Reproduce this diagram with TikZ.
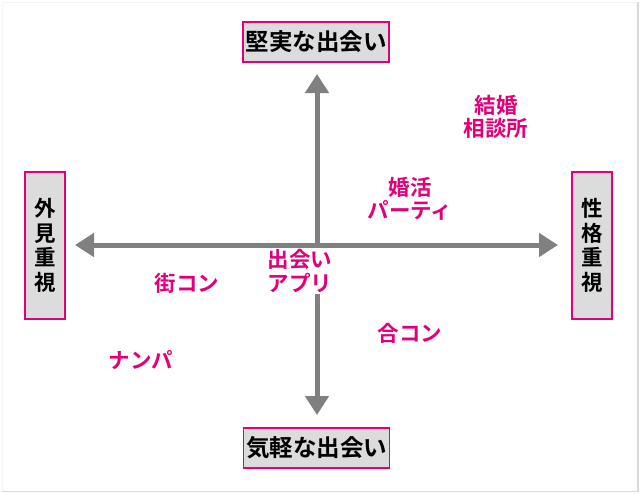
\documentclass[tikz,border=0pt]{standalone}
\usepackage{fontspec}
\setmainfont{Noto Sans CJK JP}
\newfontfamily\jpb{Noto Sans CJK JP Bold}
\usetikzlibrary{arrows.meta}
\definecolor{pk}{RGB}{226,0,122}
\definecolor{boxfill}{RGB}{220,220,220}
\definecolor{axisgray}{RGB}{128,128,128}
\tikzset{
  axisline/.style={draw=axisgray, line width=5pt, {Triangle[length=19pt,width=23pt]}-{Triangle[length=19pt,width=23pt]}},
  axisbox/.style={draw=pk, line width=1.8pt, fill=boxfill, inner sep=0pt, font=\jpb\fontsize{23.5}{25}\selectfont, text=black},
  hbox/.style={axisbox, minimum width=146pt, minimum height=40pt},
  vbox/.style={axisbox, minimum width=40pt, minimum height=147pt, align=center, font=\jpb\fontsize{21.5}{24.5}\selectfont},
  lbl/.style={text=pk, font=\jpb\fontsize{21.5}{23.5}\selectfont, align=center, inner sep=1pt}
}
\begin{document}
\begin{tikzpicture}[x=1pt,y=-1pt]
\useasboundingbox (0,0) rectangle (640,493);
\fill[white] (0,0) rectangle (640,493);
\draw[gray!8, line width=1pt] (2,491) -- (2,2) -- (638,2);
\draw[gray!30, line width=1.2pt] (2,491.5) -- (638,491.5) -- (638,2);
\coordinate (tipL) at (75,245);
\coordinate (tipR) at (558,245);
\coordinate (tipT) at (317,74);
\coordinate (tipB) at (317,415);
\draw[axisline] (tipT) -- (tipB);
\draw[axisline] (tipL) -- (tipR);
\node[hbox] (top) at (316,42) {堅実な出会い};
\node[hbox] (bottom) at (316.5,448) {気軽な出会い};
\node[vbox] (left) at (45,245.5) {外\\見\\重\\視};
\node[vbox] (right) at (592,245.5) {性\\格\\重\\視};
\node[lbl] (kekkon) at (496,117) {結婚\\相談所};
\node[lbl] (konkatsu) at (410,199) {婚活\\パーティ};
\node[lbl, fill=white, inner sep=2pt] (app) at (300,271) {出会い\\アプリ};
\node[lbl] (machikon) at (187,283) {街コン};
\node[lbl] (gokon) at (410,333) {合コン};
\node[lbl] (nanpa) at (141,360) {ナンパ};
\end{tikzpicture}
\end{document}
